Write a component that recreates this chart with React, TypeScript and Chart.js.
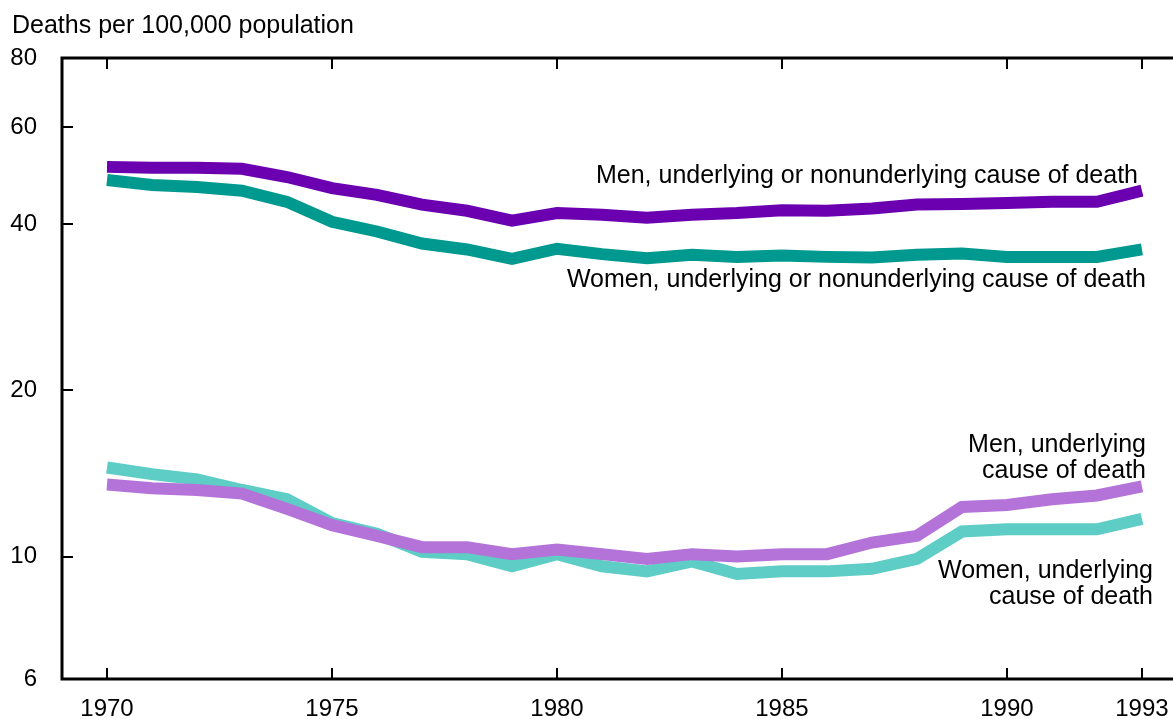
import React, { useEffect, useRef } from "react";
import { Chart, registerables } from "chart.js";

Chart.register(...registerables);

const years = [1970, 1971, 1972, 1973, 1974, 1975, 1976, 1977, 1978, 1979, 1980, 1981, 1982, 1983, 1984, 1985, 1986, 1987, 1988, 1989, 1990, 1991, 1992, 1993];

const menAnyCause = [50.8, 50.6, 50.6, 50.4, 48.7, 46.5, 45.2, 43.4, 42.3, 40.6, 41.9, 41.6, 41.1, 41.6, 41.9, 42.4, 42.3, 42.7, 43.4, 43.5, 43.7, 43.9, 43.9, 46.0];
const womenAnyCause = [48.1, 47.1, 46.7, 46.0, 43.9, 40.4, 38.8, 36.9, 36.0, 34.6, 36.1, 35.3, 34.7, 35.2, 34.9, 35.1, 34.9, 34.8, 35.2, 35.4, 34.9, 34.9, 34.9, 36.0];
const menUnderlying = [13.5, 13.3, 13.2, 13.0, 12.2, 11.4, 10.9, 10.4, 10.4, 10.1, 10.3, 10.1, 9.9, 10.1, 10.0, 10.1, 10.1, 10.6, 10.9, 12.3, 12.4, 12.7, 12.9, 13.4];
const womenUnderlying = [14.5, 14.1, 13.8, 13.2, 12.7, 11.5, 11.0, 10.2, 10.1, 9.6, 10.1, 9.6, 9.4, 9.8, 9.3, 9.4, 9.4, 9.5, 9.9, 11.1, 11.2, 11.2, 11.2, 11.7];

const xTickValues = [1970, 1975, 1980, 1985, 1990, 1993];
const yTickValues = [6, 10, 20, 40, 60, 80];

const yAxisTitle = "Deaths per 100,000 population";

const seriesLabels = [
  "Men, underlying or nonunderlying cause of death",
  "Women, underlying or nonunderlying cause of death",
  "Men, underlying cause of death",
  "Women, underlying cause of death",
];

const seriesColors = ["#6a00b0", "#00998f", "#b473d8", "#5dcdc5"];

// annotation text blocks (right-aligned), positions in canvas pixels
const annotations = [
  { lines: ["Men, underlying or nonunderlying cause of death"], right: 1138, baseline: 183 },
  { lines: ["Women, underlying or nonunderlying cause of death"], right: 1146, baseline: 287 },
  { lines: ["Men, underlying", "cause of death"], right: 1146, baseline: 452 },
  { lines: ["Women, underlying", "cause of death"], right: 1153, baseline: 578 },
];

const FONT = 'Arial, "Liberation Sans", sans-serif';

const framePlugin = {
  id: "framePlugin",
  afterDraw(chart: any) {
    const { ctx, chartArea } = chart;
    const { left, top, bottom } = chartArea;
    const W = chart.width;
    const xs = chart.scales.x;
    const ys = chart.scales.y;
    ctx.save();
    ctx.strokeStyle = "#000";
    ctx.lineJoin = "miter";
    ctx.lineWidth = 3;
    ctx.beginPath();
    ctx.moveTo(W + 5, top);
    ctx.lineTo(left, top);
    ctx.lineTo(left, bottom);
    ctx.lineTo(W + 5, bottom);
    ctx.stroke();

    ctx.lineWidth = 2;
    ctx.beginPath();
    xTickValues.forEach((v) => {
      const px = Math.round(xs.getPixelForValue(v));
      ctx.moveTo(px, top);
      ctx.lineTo(px, top + 11);
      ctx.moveTo(px, bottom);
      ctx.lineTo(px, bottom - 11);
    });
    yTickValues.forEach((v, i) => {
      if (i === 0 || i === yTickValues.length - 1) return;
      const py = Math.round(ys.getPixelForValue(v));
      ctx.moveTo(left, py);
      ctx.lineTo(left + 11, py);
    });
    ctx.stroke();

    ctx.fillStyle = "#000";
    ctx.font = `25px ${FONT}`;
    ctx.textBaseline = "alphabetic";
    ctx.textAlign = "left";
    ctx.fillText(yAxisTitle, 12, 33);

    ctx.textAlign = "right";
    annotations.forEach((a) => {
      a.lines.forEach((line, i) => {
        ctx.fillText(line, a.right, a.baseline + i * 26);
      });
    });
    ctx.restore();
  },
};

export default function App() {
  const canvasRef = useRef<HTMLCanvasElement | null>(null);

  useEffect(() => {
    document.body.style.margin = "0";
    const canvas = canvasRef.current;
    if (!canvas) return;
    const seriesData = [menAnyCause, womenAnyCause, menUnderlying, womenUnderlying];
    const chart = new Chart(canvas, {
      type: "line",
      data: {
        datasets: seriesData.map((arr, i) => ({
          label: seriesLabels[i],
          data: arr.map((v, j) => ({ x: years[j], y: v })),
          borderColor: seriesColors[i],
          backgroundColor: seriesColors[i],
          borderWidth: 12,
          pointRadius: 0,
          tension: 0,
          fill: false,
          borderCapStyle: "butt",
          borderJoinStyle: "miter",
        })),
      },
      options: {
        animation: false,
        responsive: false,
        maintainAspectRatio: false,
        devicePixelRatio: 1,
        layout: { padding: { top: 58, left: 0, right: 0, bottom: 0 } },
        plugins: {
          legend: { display: false },
          tooltip: { enabled: false },
          title: { display: false },
        },
        scales: {
          x: {
            type: "linear",
            min: 1969,
            max: 1993.69,
            grid: { display: false, drawTicks: false },
            border: { display: false },
            afterBuildTicks: (scale: any) => {
              scale.ticks = xTickValues.map((v) => ({ value: v }));
            },
            afterFit: (scale: any) => {
              scale.height = 40;
              scale.paddingLeft = 0;
              scale.paddingRight = 0;
            },
            ticks: {
              autoSkip: false,
              maxRotation: 0,
              padding: 16,
              color: "#000",
              font: { family: FONT, size: 24 },
              callback: (v: any) => String(v),
            },
          },
          y: {
            type: "logarithmic",
            min: 6,
            max: 80,
            grid: { display: false, drawTicks: false },
            border: { display: false },
            afterBuildTicks: (scale: any) => {
              scale.ticks = yTickValues.map((v) => ({ value: v }));
            },
            afterFit: (scale: any) => {
              scale.width = 62;
            },
            ticks: {
              autoSkip: false,
              padding: 25,
              color: "#000",
              font: { family: FONT, size: 24 },
              callback: (v: any) => String(v),
            },
          },
        },
      },
      plugins: [framePlugin],
    });
    return () => chart.destroy();
  }, []);

  return (
    <div style={{ position: "fixed", left: 0, top: 0, width: 1173, height: 719, overflow: "hidden", background: "#fff" }}>
      <canvas ref={canvasRef} width={1173} height={719} style={{ display: "block" }} />
    </div>
  );
}
